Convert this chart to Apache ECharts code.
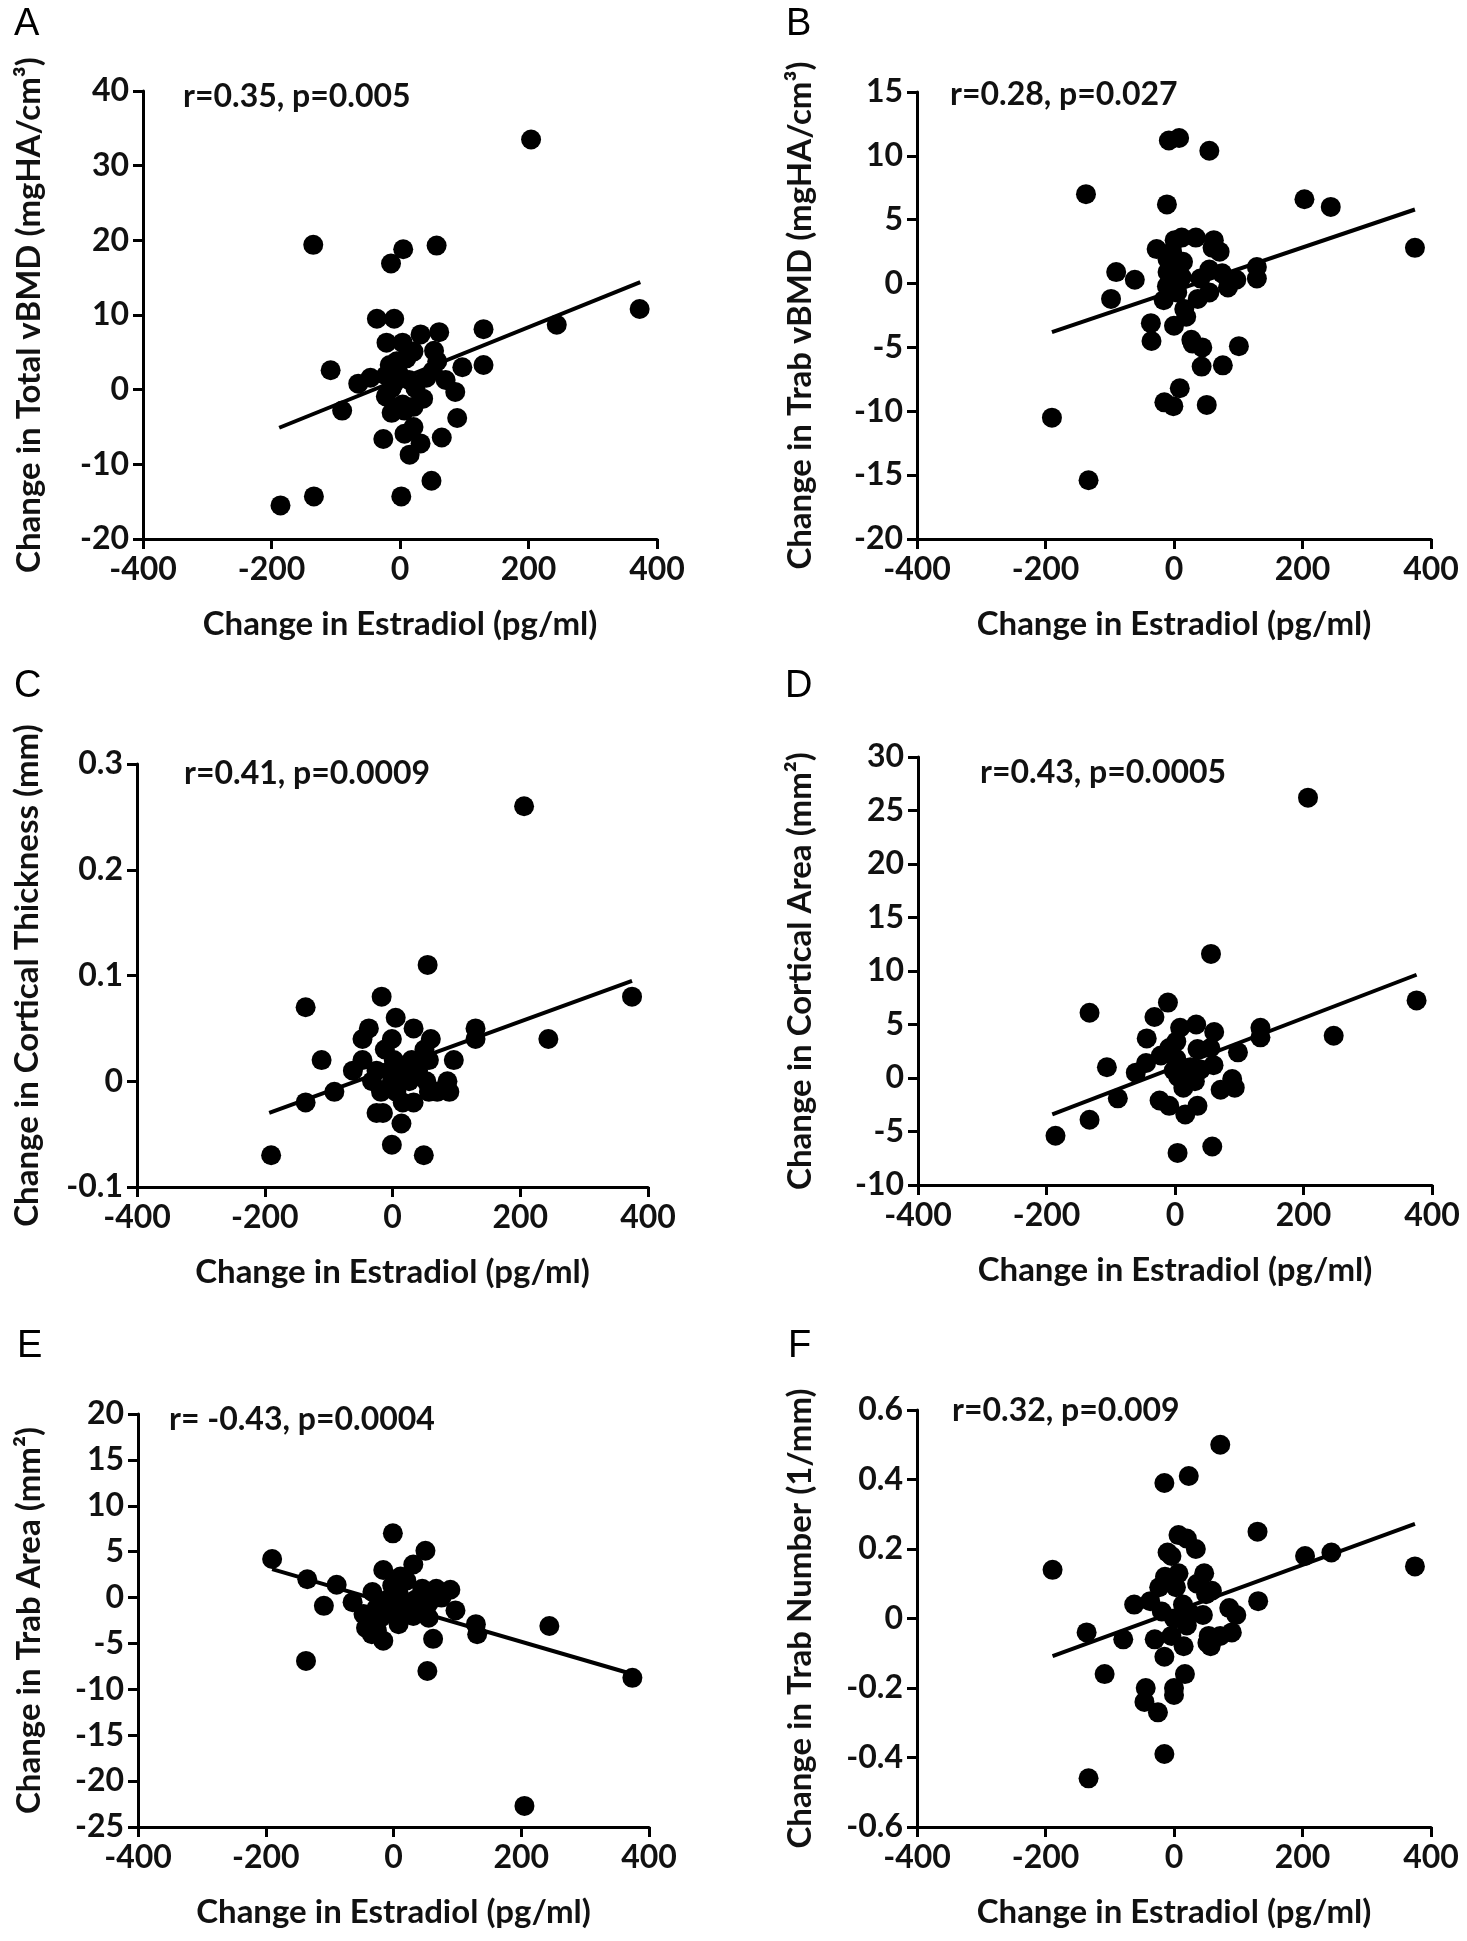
<!DOCTYPE html>
<html>
<head>
<meta charset="utf-8">
<script src="https://cdn.jsdelivr.net/npm/echarts@6/dist/echarts.min.js"></script>
<style>
    html, body { margin: 0; padding: 0; background: #fff; }
    #myChart { width: 1467px; height: 1941px; }
</style>
</head>
<body>
<div id="myChart"></div>
<script>
// estradiol change (x) vs. bone change (y), one array per panel
var x_label = 'Change in Estradiol (pg/ml)';

var total_vbmd = [
    [204, 33.5], [-135, 19.4], [5, 18.8], [57, 19.3], [-14, 16.9], [-36, 9.5], [-9, 9.5],
    [373, 10.8], [244, 8.7], [130, 8.1], [61, 7.7], [32, 7.4], [-21, 6.3], [4, 6.3],
    [21, 5.1], [53, 5.2], [58, 3.8], [97, 3.0], [130, 3.3], [-108, 2.6], [-16, 3.3],
    [-2, 2.2], [-22, 1.9], [-46, 1.6], [-65, 0.8], [14, 1.3], [41, 1.6], [51, 2.5],
    [71, 1.3], [86, -0.3], [24, 0.2], [-13, 0.2], [-22, -0.9], [36, -1.2], [-90, -2.8],
    [4, -2.0], [-13, -3.1], [21, -2.3], [89, -3.8], [7, -2.8], [-26, -6.6], [7, -5.9],
    [21, -5.0], [65, -6.4], [32, -7.2], [15, -8.7], [49, -12.2], [-134, -14.3], [2, -14.3],
    [-186, -15.5], [-5, 3.8], [-8, 1.0], [10, 4.2]
];
var total_vbmd_fit = [[-188, -5.1], [374, 14.4]];

var trab_vbmd = [
    [-8, 11.2], [8, 11.4], [55, 10.4], [-137, 7.0], [-11, 6.2], [203, 6.6], [244, 6.0],
    [375, 2.8], [-27, 2.7], [1, 3.4], [12, 3.6], [34, 3.6], [62, 3.4], [71, 2.5],
    [-10, 1.9], [14, 1.7], [-90, 0.9], [-61, 0.3], [-10, 0.9], [12, 0.5], [41, 0.4],
    [55, 1.1], [75, 0.8], [97, 0.3], [129, 1.3], [129, 0.4], [84, -0.3], [55, -0.7],
    [-11, -0.2], [5, -0.7], [-16, -1.3], [37, -1.2], [-98, -1.2], [16, -2.0], [19, -2.6],
    [-36, -3.1], [0, -3.3], [-35, -4.5], [27, -4.4], [29, -4.7], [44, -5.0], [101, -4.9],
    [43, -6.5], [76, -6.4], [9, -8.2], [-15, -9.3], [-1, -9.6], [51, -9.5], [-190, -10.5],
    [-133, -15.4], [-3, 2.5], [-5, 0.2], [60, 2.8]
];
var trab_vbmd_fit = [[-190, -3.8], [375, 5.8]];

var cort_thick = [
    [206, 0.26], [55, 0.11], [-17, 0.08], [375, 0.08], [-136, 0.07], [5, 0.06], [-37, 0.05],
    [33, 0.05], [130, 0.05], [-47, 0.04], [-1, 0.04], [60, 0.04], [244, 0.04], [130, 0.04],
    [-12, 0.03], [50, 0.03], [-111, 0.02], [-47, 0.02], [2, 0.02], [30, 0.02], [57, 0.02],
    [96, 0.02], [-62, 0.01], [-25, 0.01], [-4, 0.01], [19, 0.01], [40, 0.01], [-32, 0],
    [-1, 0], [26, 0], [53, 0], [86, 0], [-91, -0.01], [-18, -0.01], [6, -0.01], [57, -0.01],
    [70, -0.01], [89, -0.01], [-136, -0.02], [16, -0.02], [33, -0.02], [-25, -0.03],
    [-15, -0.03], [14, -0.04], [-1, -0.06], [49, -0.07], [-190, -0.07]
];
var cort_thick_fit = [[-193, -0.03], [375, 0.095]];

var cort_area = [
    [207, 26.2], [56, 11.6], [-11, 7.05], [376, 7.25], [-133, 6.1], [-32, 5.7], [33, 5.0],
    [8, 4.7], [133, 4.7], [61, 4.3], [-44, 3.7], [133, 3.8], [247, 3.95], [2, 3.4],
    [35, 2.7], [55, 2.8], [98, 2.4], [-9, 2.8], [-22, 2.1], [-45, 1.4], [-106, 1.0],
    [2, 1.8], [60, 1.2], [40, 0.8], [-61, 0.5], [-2, 0.7], [16, 0.3], [31, -0.3],
    [89, -0.1], [71, -1.1], [93, -0.9], [13, -0.9], [-89, -1.9], [-24, -2.1], [-9, -2.6],
    [35, -2.6], [16, -3.4], [-133, -3.9], [-186, -5.4], [58, -6.4], [4, -7.0], [5, 0.1],
    [24, 1.0]
];
var cort_area_fit = [[-191, -3.4], [376, 9.65]];

var trab_area = [
    [-1, 7.0], [50, 5.1], [-190, 4.2], [31, 3.6], [-16, 3.0], [11, 2.3], [-135, 2.0],
    [20, 1.85], [-89, 1.4], [-2, 1.3], [45, 0.95], [67, 0.95], [89, 0.85], [-33, 0.6],
    [8, 0.5], [75, 0.0], [35, -0.2], [-9, -0.2], [-64, -0.5], [55, -0.6], [-109, -0.9],
    [-26, -1.1], [14, -1.0], [97, -1.4], [31, -1.5], [-2, -1.8], [-47, -1.8], [-20, -2.2],
    [55, -2.2], [31, -2.0], [-40, -2.7], [8, -2.9], [129, -2.9], [244, -3.1], [-43, -3.3],
    [-26, -3.6], [131, -4.0], [-34, -4.0], [62, -4.5], [-16, -4.7], [-137, -6.9],
    [53, -8.0], [374, -8.75], [205, -22.7]
];
var trab_area_fit = [[-190, 3.1], [372, -8.3]];

var trab_num = [
    [72, 0.50], [23, 0.41], [-15, 0.39], [130, 0.25], [7, 0.24], [20, 0.23], [34, 0.20],
    [-10, 0.19], [-4, 0.18], [204, 0.18], [245, 0.19], [-189, 0.14], [375, 0.15], [7, 0.13],
    [47, 0.13], [-14, 0.12], [-23, 0.09], [36, 0.10], [3, 0.09], [59, 0.08], [50, 0.07],
    [-62, 0.04], [131, 0.05], [-37, 0.05], [86, 0.03], [-19, 0.02], [14, 0.04], [25, 0.015],
    [45, 0.01], [97, 0.01], [0, 0], [20, -0.02], [-136, -0.04], [90, -0.04], [72, -0.05],
    [-4, -0.05], [54, -0.05], [-79, -0.06], [-30, -0.06], [52, -0.07], [57, -0.08],
    [15, -0.08], [-15, -0.11], [-108, -0.16], [17, -0.16], [-44, -0.20], [0, -0.20],
    [0, -0.22], [-46, -0.24], [-25, -0.27], [-15, -0.39], [-133, -0.46]
];
var trab_num_fit = [[-189, -0.108], [375, 0.272]];

var panels = [
    {letter: 'A', y_name: 'Change in Total vBMD (mgHA/cm³)', y_min: -20, y_max: 40, y_step: 10,
        stat: 'r=0.35, p=0.005', points: total_vbmd, fit: total_vbmd_fit},
    {letter: 'B', y_name: 'Change in Trab vBMD (mgHA/cm³)', y_min: -20, y_max: 15, y_step: 5,
        stat: 'r=0.28, p=0.027', points: trab_vbmd, fit: trab_vbmd_fit},
    {letter: 'C', y_name: 'Change in Cortical Thickness (mm)', y_min: -0.1, y_max: 0.3, y_step: 0.1,
        stat: 'r=0.41, p=0.0009', points: cort_thick, fit: cort_thick_fit},
    {letter: 'D', y_name: 'Change in Cortical Area (mm²)', y_min: -10, y_max: 30, y_step: 5,
        stat: 'r=0.43, p=0.0005', points: cort_area, fit: cort_area_fit},
    {letter: 'E', y_name: 'Change in Trab Area (mm²)', y_min: -25, y_max: 20, y_step: 5,
        stat: 'r= -0.43, p=0.0004', points: trab_area, fit: trab_area_fit},
    {letter: 'F', y_name: 'Change in Trab Number (1/mm)', y_min: -0.6, y_max: 0.6, y_step: 0.2,
        stat: 'r=0.32, p=0.009', points: trab_num, fit: trab_num_fit}
];

// layout, in page pixels
var grids = [
    {left: 143, top: 91, width: 514, height: 448},
    {left: 917, top: 92, width: 514, height: 447},
    {left: 137, top: 764, width: 511, height: 423},
    {left: 918, top: 757, width: 514, height: 428},
    {left: 138, top: 1414, width: 511, height: 413},
    {left: 917, top: 1410, width: 514, height: 417}
];
var letter_pos = [[14, 6], [786, 6], [14, 668], [785, 668], [17, 1328], [788, 1328]];
var stat_pos = [[183, 100], [950, 98], [184, 777], [980, 776], [169, 1423], [952, 1414]];
var y_name_gap = [97, 100, 93, 101, 92, 100];

var FONT = 'Lato';
var TICK_SIZE = 32;
var NAME_SIZE = 33;

function build_option() {
    var option = {
        backgroundColor: '#fff',
        animation: false,
        grid: [],
        xAxis: [],
        yAxis: [],
        series: [],
        graphic: []
    };
    for (var i = 0; i < panels.length; i++) {
        var p = panels[i];
        var g = grids[i];
        option.grid.push({left: g.left, top: g.top, width: g.width, height: g.height});
        option.xAxis.push({
            type: 'value',
            gridIndex: i,
            min: -400,
            max: 400,
            interval: 200,
            name: x_label,
            nameLocation: 'middle',
            nameGap: 69,
            nameTextStyle: {color: '#111', fontFamily: FONT, fontWeight: 'bold', fontSize: NAME_SIZE},
            axisLine: {onZero: false, lineStyle: {color: '#000', width: 3}},
            axisTick: {length: 10, lineStyle: {color: '#000', width: 3}},
            axisLabel: {color: '#111', fontFamily: FONT, fontWeight: 'bold', fontSize: TICK_SIZE, margin: 15},
            splitLine: {show: false}
        });
        option.yAxis.push({
            type: 'value',
            gridIndex: i,
            min: p.y_min,
            max: p.y_max,
            interval: p.y_step,
            name: p.y_name,
            nameLocation: 'middle',
            nameGap: y_name_gap[i],
            nameTextStyle: {color: '#111', fontFamily: FONT, fontWeight: 'bold', fontSize: NAME_SIZE},
            axisLine: {onZero: false, lineStyle: {color: '#000', width: 3}},
            axisTick: {length: 10, lineStyle: {color: '#000', width: 3}},
            axisLabel: {color: '#111', fontFamily: FONT, fontWeight: 'bold', fontSize: TICK_SIZE, margin: 14},
            splitLine: {show: false}
        });
        option.series.push({
            type: 'scatter',
            xAxisIndex: i,
            yAxisIndex: i,
            symbol: 'circle',
            symbolSize: 20,
            itemStyle: {color: '#000', opacity: 1},
            data: p.points
        });
        option.series.push({
            type: 'line',
            xAxisIndex: i,
            yAxisIndex: i,
            symbol: 'none',
            lineStyle: {color: '#000', width: 4},
            data: p.fit,
            z: 3
        });
        option.graphic.push({
            type: 'text',
            left: letter_pos[i][0],
            top: letter_pos[i][1],
            style: {text: p.letter, fill: '#000', font: '38px "Liberation Sans", Arial, sans-serif'}
        });
        option.graphic.push({
            type: 'text',
            left: stat_pos[i][0],
            top: stat_pos[i][1] - 19,
            style: {text: p.stat, fill: '#111', font: 'bold 32px ' + FONT}
        });
    }
    return option;
}

var myChart = echarts.init(document.getElementById('myChart'));
myChart.setOption(build_option());
</script>
</body>
</html>
